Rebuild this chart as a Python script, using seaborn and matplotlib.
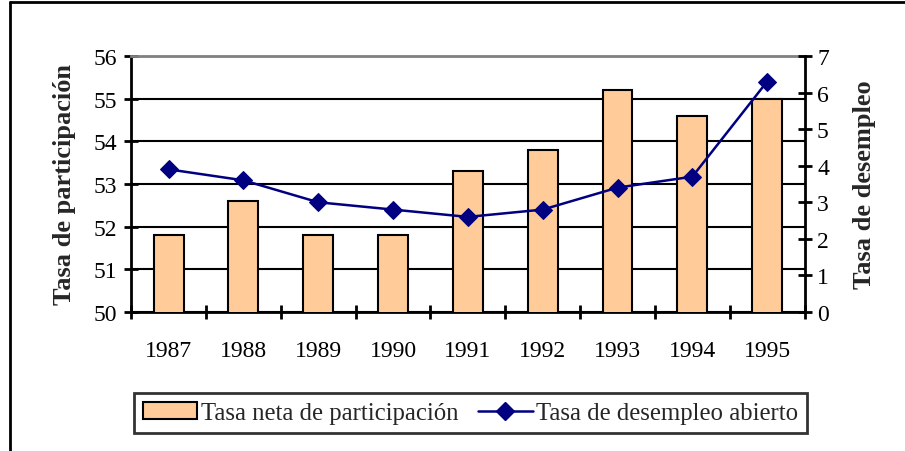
import numpy as np
import pandas as pd
import matplotlib.pyplot as plt
import seaborn as sns
from matplotlib.lines import Line2D
from matplotlib.patches import Patch

# Data
years = ['1987', '1988', '1989', '1990', '1991', '1992', '1993', '1994', '1995']
participacion = [51.8, 52.6, 51.8, 51.8, 53.3, 53.8, 55.2, 54.6, 55.0]
desempleo = [3.9, 3.6, 3.0, 2.8, 2.6, 2.8, 3.4, 3.7, 6.3]

df = pd.DataFrame({'year': years, 'part': participacion, 'desemp': desempleo})

sns.set_theme(style='white')
plt.rcParams['font.family'] = ['Liberation Serif', 'DejaVu Serif']

bar_color = '#FFCC99'
line_color = '#000080'

fig = plt.figure(figsize=(9.05, 4.52), dpi=100)
ax = fig.add_axes([0.145, 0.3075, 0.744, 0.5665])

# Bars (left axis)
sns.barplot(data=df, x='year', y='part', ax=ax, color=bar_color,
            edgecolor='black', linewidth=1.5, width=0.4, saturation=1, zorder=3)
ax.set_ylim(50, 56)
ax.set_yticks(range(50, 57))
ax.yaxis.grid(True, color='black', linewidth=1.5, zorder=0)
ax.set_axisbelow(True)

# Line (right axis)
ax2 = ax.twinx()
sns.lineplot(data=df, x='year', y='desemp', ax=ax2, color=line_color,
             marker='D', markersize=9, linewidth=1.8, markeredgecolor=line_color,
             sort=False)
ax2.set_ylim(0, 7)
ax2.set_yticks(range(0, 8))
ax.set_xlim(-0.5, len(years) - 0.5)

# Spines / ticks
for a in (ax, ax2):
    for s in a.spines.values():
        s.set_visible(False)
for name in ('left', 'bottom'):
    ax.spines[name].set_visible(True)
    ax.spines[name].set_color('black')
    ax.spines[name].set_linewidth(2)
ax.spines['top'].set_visible(True)
ax.spines['top'].set_color('#808080')
ax.spines['top'].set_linewidth(2)
ax2.spines['right'].set_visible(True)
ax2.spines['right'].set_color('black')
ax2.spines['right'].set_linewidth(2)

ax.tick_params(axis='y', which='major', direction='inout', length=10, width=2,
               labelsize=17, colors='black', left=True, pad=5)
ax2.tick_params(axis='y', which='major', direction='inout', length=10, width=2,
                labelsize=17, colors='black', right=True, pad=4)
ax.tick_params(axis='x', which='major', length=0, labelsize=17, colors='black', pad=20)
ax.set_xticks(np.arange(-0.5, len(years), 1), minor=True)
ax.tick_params(axis='x', which='minor', direction='inout', length=10, width=2,
               colors='black', bottom=True)

ax.set_xlabel('')
ax.set_ylabel('Tasa de participación', fontsize=19, fontweight='bold', labelpad=13)
ax2.set_ylabel('Tasa de desempleo', fontsize=19, fontweight='bold', labelpad=17)

# Legend
handles = [
    Patch(facecolor=bar_color, edgecolor='black', linewidth=1.5),
    Line2D([0], [0], color=line_color, marker='D', markersize=9, linewidth=1.8),
]
labels = ['Tasa neta de participación', 'Tasa de desempleo abierto']
leg = fig.legend(handles, labels, loc='center', bbox_to_anchor=(0.52, 0.084),
                 ncol=2, fontsize=17.8, frameon=True, fancybox=False,
                 edgecolor='black', handlelength=2.2, handletextpad=0.15,
                 columnspacing=0.8, borderpad=0.35)
leg.get_frame().set_linewidth(2)

# Outer border (left and top only visible)
fig.add_artist(Line2D([0.0105, 0.0105], [0, 0.993], transform=fig.transFigure,
                      color='black', linewidth=2))
fig.add_artist(Line2D([0.0105, 1.0], [0.993, 0.993], transform=fig.transFigure,
                      color='black', linewidth=2))

fig.savefig('out.png', dpi=100)
